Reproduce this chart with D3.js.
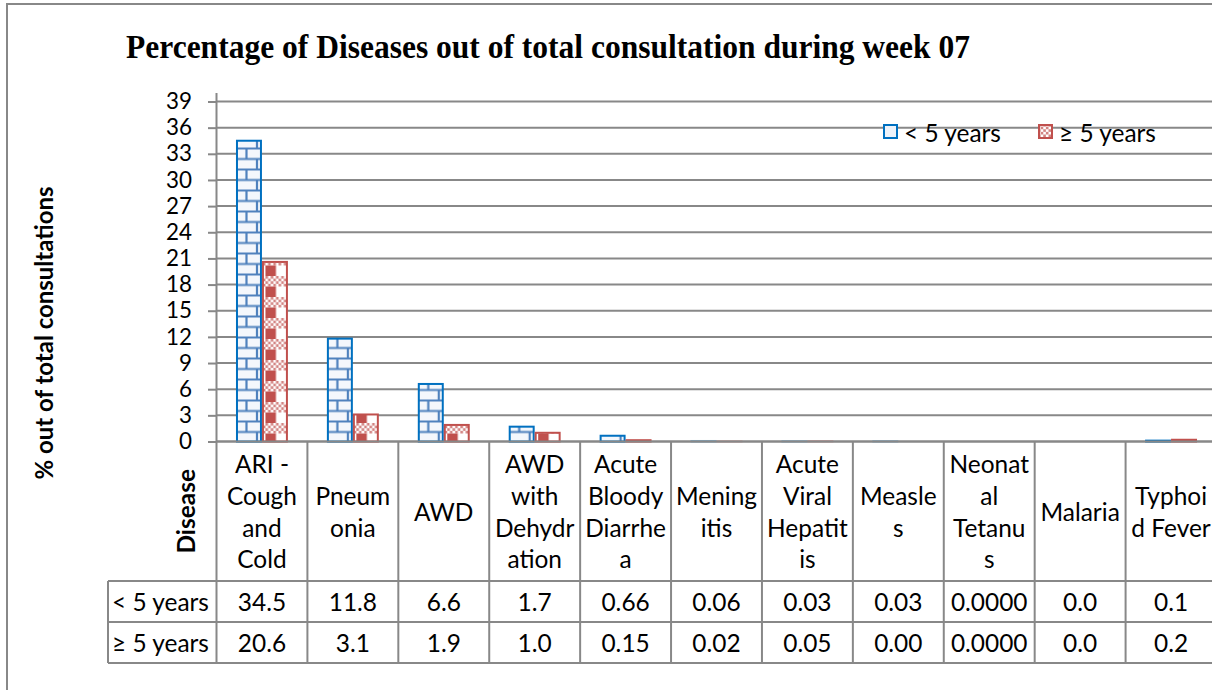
<!DOCTYPE html>
<html>
<head>
<meta charset="utf-8">
<script src="https://cdn.jsdelivr.net/npm/d3@7"></script>
<style>
body { margin: 0; background: #fff; }
text { fill: #000; }
</style>
</head>
<body>
<div id="chart"></div>
<script>
// data
var categories = ["ARI -\nCough\nand\nCold", "Pneum\nonia", "AWD", "AWD\nwith\nDehydr\nation",
                  "Acute\nBloody\nDiarrhe\na", "Mening\nitis", "Acute\nViral\nHepatit\nis",
                  "Measle\ns", "Neonat\nal\nTetanu\ns", "Malaria", "Typhoi\nd Fever"];
var series = ["< 5 years", "≥ 5 years"];
var under5 = ["34.5", "11.8", "6.6", "1.7", "0.66", "0.06", "0.03", "0.03", "0.0000", "0.0", "0.1"];
var over5  = ["20.6", "3.1", "1.9", "1.0", "0.15", "0.02", "0.05", "0.00", "0.0000", "0.0", "0.2"];
var yTicks = [0, 3, 6, 9, 12, 15, 18, 21, 24, 27, 30, 33, 36, 39];

var titleText = "Percentage of Diseases out of total consultation during week 07";
var yTitle = "% out of total consultations";
var xTitle = "Disease";

var width = 1212, height = 690;
var sans = "Lato, 'Open Sans', sans-serif";
var serif = "'Liberation Serif', 'Times New Roman', serif";
var gray = "#888888";
var blue = "#0070c0", brickLine = "#4f81bd", red = "#c0504d";

var plot = {left: 216.5, right: 1216.5, top: 101.5, bottom: 441.5};
var table = {left: 108, row1: 581, row2: 622, row3: 663};

var svg = d3.select("#chart")
            .append("svg")
            .attr("width", width)
            .attr("height", height);

function fitSize(str, weight, family, target) {
    var t = svg.append("text")
               .style("font-family", family)
               .style("font-weight", weight)
               .style("font-size", "100px")
               .text(str);
    var w = t.node().getComputedTextLength();
    t.remove();
    return 100 * target / w;
}

var bodySize = fitSize("< 5 years", "normal", sans, 97);
var tickSize = fitSize("39", "normal", sans, 26);
var titleSize = fitSize(titleText, "bold", serif, 844);
var yTitleSize = fitSize(yTitle, "bold", sans, 293);

// patterns
var defs = svg.append("defs");

var brick = defs.append("pattern")
                .attr("id", "brick")
                .attr("patternUnits", "userSpaceOnUse")
                .attr("width", 21).attr("height", 21)
                .attr("x", 0).attr("y", 0.5);
brick.append("rect").attr("width", 21).attr("height", 21).attr("fill", "#f4f7fc");
brick.append("path")
     .attr("d", "M0,1H21M0,11.5H21M10.5,1V11.5M0,11.5V21M21,11.5V21")
     .attr("stroke", brickLine)
     .attr("stroke-width", 2.2)
     .attr("fill", "none");

function checker(p, h) {
    var c = 21 / 8;
    for (var r = 0; r < Math.round(h / c); r++) {
        for (var k = 0; k < 8; k++) {
            if ((r + k) % 2 === 0) {
                p.append("rect")
                 .attr("x", k * c).attr("y", r * c)
                 .attr("width", c).attr("height", c)
                 .attr("fill", red)
                 .attr("fill-opacity", 0.7);
            }
        }
    }
}

var plaid = defs.append("pattern")
                .attr("id", "plaid")
                .attr("patternUnits", "userSpaceOnUse")
                .attr("width", 21).attr("height", 21)
                .attr("x", 3.5).attr("y", 3);
plaid.append("rect").attr("width", 21).attr("height", 21).attr("fill", "#fff");
checker(plaid, 10.5);
plaid.append("rect")
     .attr("x", 0).attr("y", 10.5)
     .attr("width", 10.5).attr("height", 10.5)
     .attr("fill", red);

var check = defs.append("pattern")
                .attr("id", "check")
                .attr("patternUnits", "userSpaceOnUse")
                .attr("width", 21).attr("height", 21);
check.append("rect").attr("width", 21).attr("height", 21).attr("fill", "#fff");
checker(check, 21);

// outer frame
svg.append("rect")
   .attr("x", 7).attr("y", 4)
   .attr("width", 1400).attr("height", 900)
   .attr("fill", "none")
   .attr("stroke", gray)
   .attr("stroke-width", 2);

// title, a little taller than the metric font gives, squeezed to the same width
svg.append("text")
   .attr("x", 126)
   .attr("y", 58)
   .attr("textLength", 844)
   .attr("lengthAdjust", "spacingAndGlyphs")
   .style("font-family", serif)
   .style("font-weight", "bold")
   .style("font-size", (titleSize * 1.1) + "px")
   .text(titleText);

// scales
var x0 = d3.scaleBand()
           .domain(categories)
           .range([plot.left, plot.right]);

var x1 = d3.scaleBand()
           .domain(series)
           .range([0, x0.bandwidth()])
           .paddingOuter(0.75);

var y = d3.scaleLinear()
          .domain([0, 39])
          .range([plot.bottom, plot.top]);

// gridlines
svg.append("g")
   .selectAll("line")
   .data(yTicks)
   .enter()
   .append("line")
   .attr("x1", plot.left)
   .attr("x2", width)
   .attr("y1", d => y(d))
   .attr("y2", d => y(d))
   .attr("stroke", gray)
   .attr("stroke-width", 2);

// bars
var rows = categories.map((c, i) => ({cat: c, vals: [+under5[i], +over5[i]]}));

var group = svg.append("g")
               .selectAll("g")
               .data(rows)
               .enter()
               .append("g");

group.selectAll("g")
     .data(d => d.vals.map((v, j) => ({cat: d.cat, s: series[j], v: v, j: j})))
     .enter()
     .append("g")
     .attr("transform", d => "translate(" + (x0(d.cat) + x1(d.s)) + ",0)")
     .append("rect")
     .attr("x", 1)
     .attr("y", d => y(d.v))
     .attr("width", x1.bandwidth() - 2)
     .attr("height", d => plot.bottom - y(d.v))
     .attr("fill", d => d.j === 0 ? "url(#brick)" : "url(#plaid)")
     .attr("stroke", d => d.j === 0 ? blue : red)
     .attr("stroke-opacity", d => d.v < 0.1 ? 0.35 : 1)
     .attr("stroke-width", 2);

// zero line on top
svg.append("line")
   .attr("x1", plot.left).attr("x2", width)
   .attr("y1", y(0)).attr("y2", y(0))
   .attr("stroke", gray)
   .attr("stroke-width", 2);

// y axis
var yAxis = svg.append("g")
               .attr("transform", "translate(" + plot.left + ",0)")
               .call(d3.axisLeft(y)
                       .tickValues(yTicks)
                       .tickSize(8.5)
                       .tickPadding(16)
                       .tickFormat(d3.format("d")));
yAxis.select(".domain").remove();
yAxis.selectAll("line").attr("stroke", gray).attr("stroke-width", 2);
yAxis.selectAll("text")
     .style("font-family", sans)
     .style("font-size", tickSize + "px")
     .attr("fill", "#000");

svg.append("line")
   .attr("x1", plot.left).attr("x2", plot.left)
   .attr("y1", 93).attr("y2", table.row3)
   .attr("stroke", gray)
   .attr("stroke-width", 2);

// y title
svg.append("text")
   .attr("transform", "translate(43,333) rotate(-90)")
   .attr("text-anchor", "middle")
   .attr("dominant-baseline", "central")
   .style("font-family", sans)
   .style("font-weight", "bold")
   .style("font-size", yTitleSize + "px")
   .text(yTitle);

// legend
var legend = svg.append("g")
                .selectAll("g")
                .data(series)
                .enter()
                .append("g")
                .attr("transform", (d, i) => "translate(" + [883, 1038][i] + ",124)");

legend.append("rect")
      .attr("x", 1).attr("y", 1)
      .attr("width", 13).attr("height", 13)
      .attr("fill", (d, i) => i === 0 ? "#eef3fa" : "url(#check)")
      .attr("stroke", (d, i) => i === 0 ? blue : red)
      .attr("stroke-width", 2);

legend.append("text")
      .attr("x", 21)
      .attr("y", 8)
      .attr("dominant-baseline", "central")
      .style("font-family", sans)
      .style("font-size", bodySize + "px")
      .text(d => d);

// data table
var tg = svg.append("g");

tg.selectAll("line.v")
  .data(categories.slice(1))
  .enter()
  .append("line")
  .attr("x1", d => x0(d)).attr("x2", d => x0(d))
  .attr("y1", plot.bottom).attr("y2", table.row3)
  .attr("stroke", gray)
  .attr("stroke-width", 2);

[table.row1, table.row2, table.row3].forEach(function(r) {
    tg.append("line")
      .attr("x1", table.left).attr("x2", width)
      .attr("y1", r).attr("y2", r)
      .attr("stroke", gray)
      .attr("stroke-width", 2);
});

tg.append("line")
  .attr("x1", table.left).attr("x2", table.left)
  .attr("y1", table.row1).attr("y2", table.row3)
  .attr("stroke", gray)
  .attr("stroke-width", 2);

// header cells
var lineH = 31.7;
var headMid = (plot.bottom + table.row1) / 2;
var head = tg.selectAll("text.head")
             .data(categories)
             .enter()
             .append("text")
             .attr("class", "head")
             .attr("text-anchor", "middle")
             .style("font-family", sans)
             .style("font-size", bodySize + "px");

head.each(function(d) {
    var lines = d.split("\n");
    var t = d3.select(this);
    lines.forEach(function(l, k) {
        t.append("tspan")
         .attr("x", x0(d) + x0.bandwidth() / 2)
         .attr("y", headMid + (k - (lines.length - 1) / 2) * lineH)
         .attr("dominant-baseline", "central")
         .text(l);
    });
});

svg.append("text")
   .attr("transform", "translate(185," + headMid + ") rotate(-90)")
   .attr("text-anchor", "middle")
   .attr("dominant-baseline", "central")
   .style("font-family", sans)
   .style("font-weight", "bold")
   .style("font-size", bodySize + "px")
   .text(xTitle);

// value rows
var tableRows = [under5, over5];
tableRows.forEach(function(vals, r) {
    var cy = r === 0 ? (table.row1 + table.row2) / 2 : (table.row2 + table.row3) / 2;
    tg.append("text")
      .attr("x", 112)
      .attr("y", cy)
      .attr("dominant-baseline", "central")
      .style("font-family", sans)
      .style("font-size", bodySize + "px")
      .text(series[r]);
    tg.selectAll("text.v" + r)
      .data(vals)
      .enter()
      .append("text")
      .attr("x", (d, i) => x0(categories[i]) + x0.bandwidth() / 2)
      .attr("y", cy)
      .attr("text-anchor", "middle")
      .attr("dominant-baseline", "central")
      .style("font-family", sans)
      .style("font-size", bodySize + "px")
      .text(d => d);
});
</script>
</body>
</html>
